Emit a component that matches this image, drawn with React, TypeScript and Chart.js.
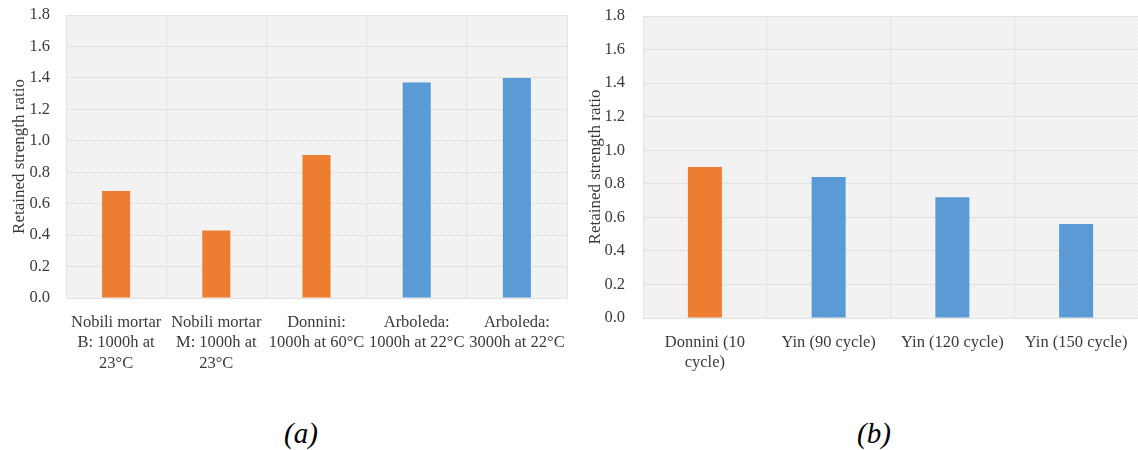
import React, { useEffect, useRef } from "react";
import { Chart, registerables } from "chart.js";

Chart.register(...registerables);

const ORANGE = "#ED7D31";
const BLUE = "#5B9BD5";

const categoriesA: (string | string[])[] = [
  ["Nobili mortar", "B: 1000h at", "23°C"],
  ["Nobili mortar", "M: 1000h at", "23°C"],
  ["Donnini:", "1000h at 60°C"],
  ["Arboleda:", "1000h at 22°C"],
  ["Arboleda:", "3000h at 22°C"],
];
const valuesA = [0.68, 0.43, 0.91, 1.37, 1.4];
const colorsA = [ORANGE, ORANGE, ORANGE, BLUE, BLUE];

const categoriesB: (string | string[])[] = [
  ["Donnini (10", "cycle)"],
  "Yin (90 cycle)",
  "Yin (120 cycle)",
  "Yin (150 cycle)",
];
const valuesB = [0.9, 0.84, 0.72, 0.56];
const colorsB = [ORANGE, BLUE, BLUE, BLUE];

const yMin = 0;
const yMax = 1.8;
const yStep = 0.2;
const yTitle = "Retained strength ratio";

const FONT = "'Liberation Serif', 'Times New Roman', serif";
const TEXT = "#3a3a3a";
const GRID = "#e2e2e2";

function makePattern(ctx: CanvasRenderingContext2D) {
  const c = document.createElement("canvas");
  c.width = 4;
  c.height = 4;
  const p = c.getContext("2d")!;
  p.fillStyle = "#f0f0f0";
  p.fillRect(0, 0, 4, 4);
  p.strokeStyle = "#f8f8f8";
  p.lineWidth = 1;
  p.beginPath();
  p.moveTo(0, 4);
  p.lineTo(4, 0);
  p.stroke();
  return ctx.createPattern(c, "repeat");
}

const bgPlugin = {
  id: "plotBg",
  beforeDraw(chart: any) {
    const { ctx, chartArea } = chart;
    if (!chartArea) return;
    ctx.save();
    ctx.fillStyle = makePattern(ctx) || "#f1f1f1";
    ctx.fillRect(chartArea.left, chartArea.top, chartArea.right - chartArea.left, chartArea.bottom - chartArea.top);
    ctx.restore();
  },
};

type Props = {
  labels: (string | string[])[];
  values: number[];
  colors: string[];
  barPct: number;
  yWidth: number;
  xHeight: number;
  padTop: number;
  padRight: number;
  yTickPad: number;
  xTickPad: number;
  titlePad: number;
  width: number;
  height: number;
};

function BarChart(props: Props) {
  const ref = useRef<HTMLCanvasElement>(null);
  useEffect(() => {
    const chart = new Chart(ref.current!, {
      type: "bar",
      data: {
        labels: props.labels,
        datasets: [
          {
            data: props.values,
            backgroundColor: props.colors,
            borderWidth: 0,
            categoryPercentage: 1,
            barPercentage: props.barPct,
          },
        ],
      },
      options: {
        animation: false,
        responsive: false,
        maintainAspectRatio: false,
        layout: { padding: { top: props.padTop, right: props.padRight, bottom: 10, left: 0 } },
        plugins: { legend: { display: false }, tooltip: { enabled: false } },
        scales: {
          x: {
            grid: {
              color: GRID,
              drawTicks: true,
              tickLength: props.xTickPad,
              tickColor: "rgba(0,0,0,0)",
              offset: true,
            },
            border: { display: false },
            ticks: {
              color: TEXT,
              font: { family: FONT, size: 16.5, lineHeight: 1.25 },
              padding: 0,
              maxRotation: 0,
              autoSkip: false,
            },
            afterFit: (s: any) => {
              s.height = props.xHeight;
            },
          },
          y: {
            min: yMin,
            max: yMax,
            grid: {
              color: GRID,
              drawTicks: true,
              tickLength: props.yTickPad,
              tickColor: "rgba(0,0,0,0)",
            },
            border: { display: false },
            ticks: {
              stepSize: yStep,
              color: TEXT,
              font: { family: FONT, size: 16.5, lineHeight: 1.2 },
              padding: 0,
              callback: (v: any) => Number(v).toFixed(1),
            },
            title: {
              display: true,
              text: yTitle,
              color: TEXT,
              font: { family: FONT, size: 17, lineHeight: 1.2 },
              padding: { top: props.titlePad, bottom: 0 },
            },
            afterFit: (s: any) => {
              s.width = props.yWidth;
            },
          },
        },
      },
      plugins: [bgPlugin],
    });
    return () => chart.destroy();
  }, []);
  return <canvas ref={ref} width={props.width} height={props.height} style={{ width: props.width, height: props.height, display: "block" }} />;
}

const captionStyle: React.CSSProperties = {
  position: "absolute",
  width: 100,
  top: 415,
  textAlign: "center",
  fontFamily: FONT,
  fontStyle: "italic",
  fontSize: 29,
  lineHeight: "36px",
  color: "#000",
};

export default function App() {
  return (
    <div style={{ position: "absolute", left: 0, top: 0, width: 1138, height: 450, background: "#fff", overflow: "hidden" }}>
      <div style={{ position: "absolute", left: 0, top: 0 }}>
        <BarChart
          labels={categoriesA}
          values={valuesA}
          colors={colorsA}
          barPct={0.28}
          yWidth={66}
          xHeight={82}
          padTop={15}
          padRight={8}
          yTickPad={16}
          xTickPad={14}
          titlePad={9}
          width={575}
          height={390}
        />
      </div>
      <div style={{ position: "absolute", left: 575, top: 0 }}>
        <BarChart
          labels={categoriesB}
          values={valuesB}
          colors={colorsB}
          barPct={0.275}
          yWidth={68}
          xHeight={62}
          padTop={16}
          padRight={0}
          yTickPad={18}
          xTickPad={14}
          titlePad={10}
          width={563}
          height={390}
        />
      </div>
      <div style={{ ...captionStyle, left: 251 }}>(a)</div>
      <div style={{ ...captionStyle, left: 824 }}>(b)</div>
    </div>
  );
}
